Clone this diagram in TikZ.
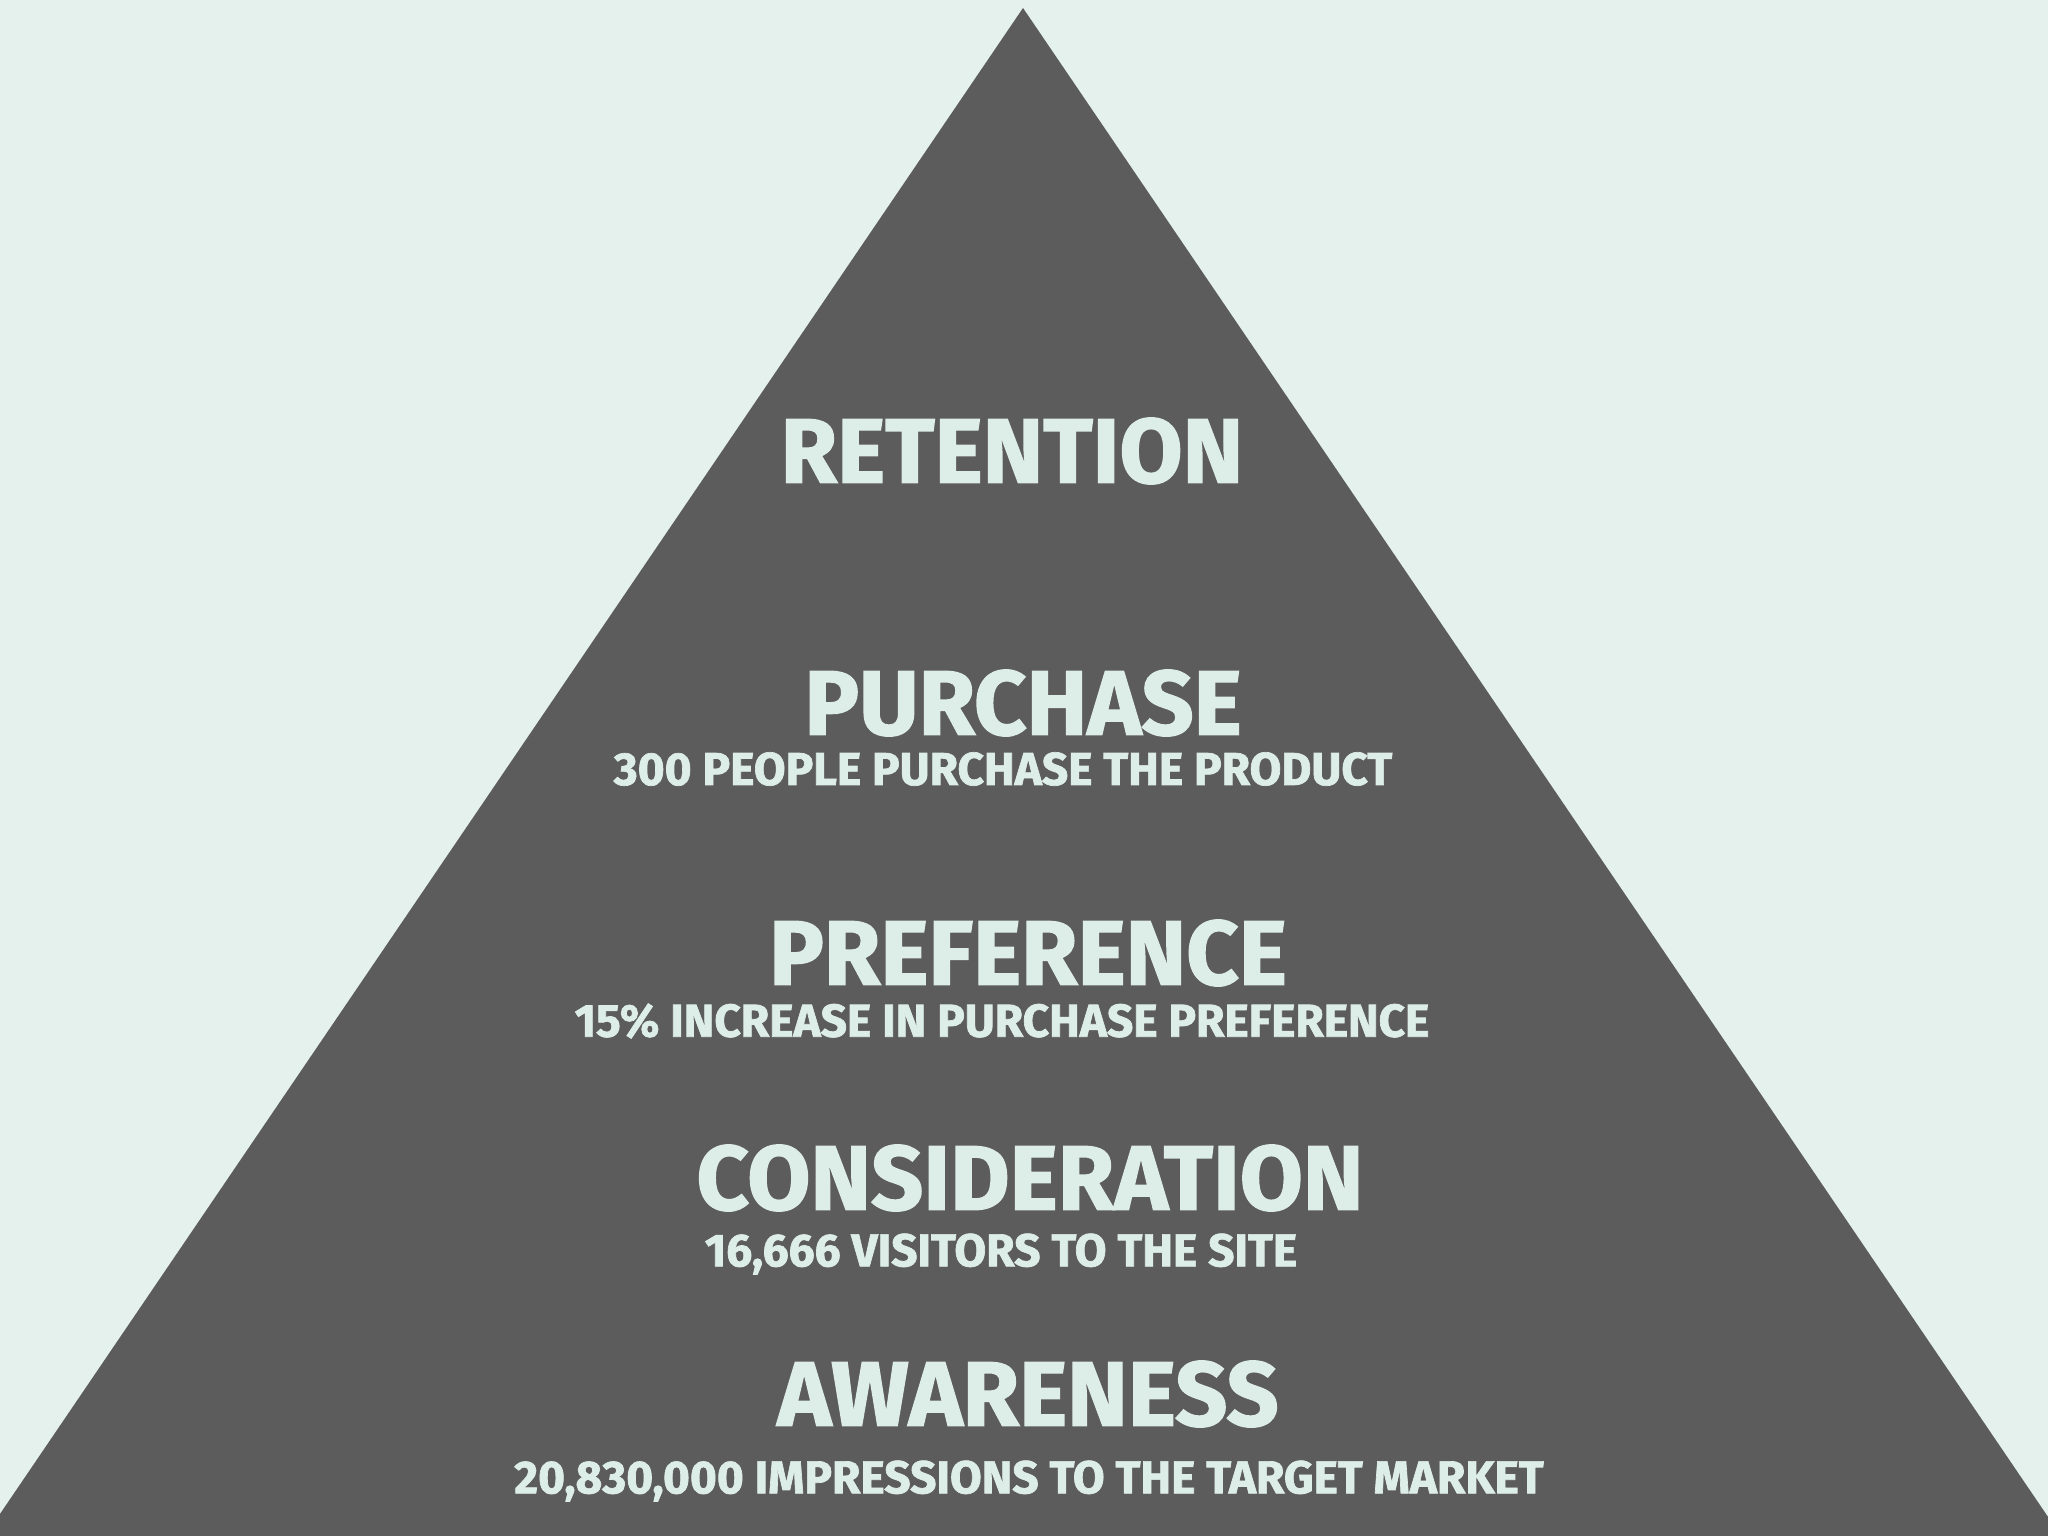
\documentclass[tikz,border=0pt]{standalone}
\usepackage{fontspec}
\setmainfont{Fira Sans}[BoldFeatures={FakeBold=1.5}]
\definecolor{mintbg}{HTML}{E4F1ED}
\definecolor{pyramidgray}{HTML}{5D5C5C}
\definecolor{labeltext}{HTML}{DDEDE8}
\tikzset{
  stage/.style={text=labeltext, inner sep=0pt, font=\fontsize{26}{28}\selectfont\bfseries},
  note/.style={text=labeltext, inner sep=0pt, font=\fontsize{13.1}{15}\selectfont\bfseries}
}
\begin{document}
\begin{tikzpicture}[x=0.01cm,y=-0.01cm]
\useasboundingbox (0,0) rectangle (2048,1536);
\clip (0,0) rectangle (2048,1536);
\fill [mintbg] (0,0) rectangle (2048,1536);
\fill [pyramidgray] (1023,8) -- (2061,1536) -- (-15,1536) -- cycle;
\node [stage] (retention) at (1012,451) {RETENTION};
\node [stage] (purchase) at (1023,703) {PURCHASE};
\node [note] (purchasenote) at (1003,769) {300 PEOPLE PURCHASE THE PRODUCT};
\node [stage] (preference) at (1028,953) {PREFERENCE};
\node [note] (preferencenote) at (1002,1021) {15\% INCREASE IN PURCHASE PREFERENCE};
\node [stage] (consideration) at (1030,1178) {CONSIDERATION};
\node [note] (considerationnote) at (1001,1254) {16,666 VISITORS TO THE SITE};
\node [stage] (awareness) at (1028,1394) {AWARENESS};
\node [note] (awarenessnote) at (1029,1481) {20,830,000 IMPRESSIONS TO THE TARGET MARKET};
\end{tikzpicture}
\end{document}
